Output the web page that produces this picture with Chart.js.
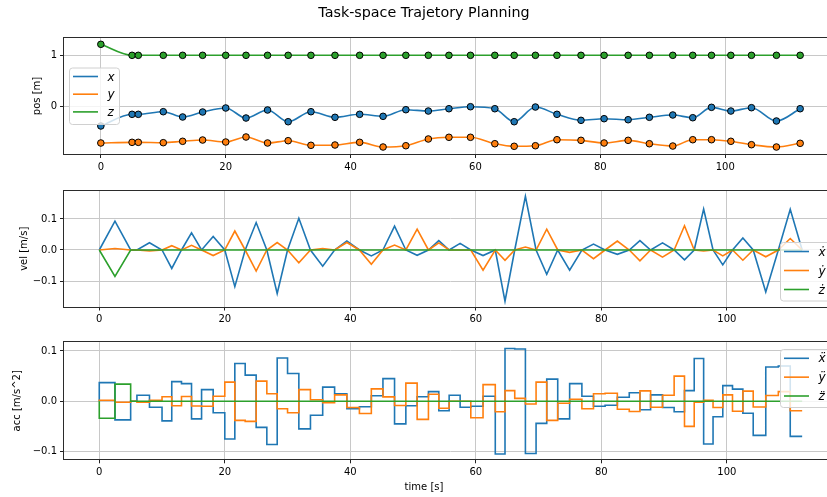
<!DOCTYPE html>
<html>
<head>
<meta charset="utf-8">
<script src="https://cdn.jsdelivr.net/npm/chart.js@4/dist/chart.umd.min.js"></script>
<style>
  html, body { margin: 0; padding: 0; background: #fff; overflow: hidden; width: 827px; height: 497px; }
  canvas { position: absolute; left: 0; top: 0; }
</style>
</head>
<body>
<canvas id="posChart" width="848" height="497" style="width:848px;height:497px"></canvas>
<canvas id="velChart" width="848" height="497" style="width:848px;height:497px"></canvas>
<canvas id="accChart" width="848" height="497" style="width:848px;height:497px"></canvas>
<script>
// Waypoint times of the trajectory (s)
const knotTimes = [0, 5, 6, 10, 13.1, 16.3, 20.0, 23.25, 26.7, 30.0, 33.65, 37.5, 41.45, 45.2, 48.85,
  52.45, 55.75, 59.2, 63.1, 66.2, 69.6, 73.05, 76.9, 80.6, 84.45, 87.85, 91.6, 94.8, 97.8, 100.9,
  104.2, 108.2, 112.0];
// Mid-segment times: velocity peak / acceleration switch (s)
const peakTimes = [2.5, 5.5, 8.0, 11.55, 14.7, 18.15, 21.6, 25.0, 28.35, 31.8, 35.6, 39.45, 43.35,
  47.05, 50.65, 54.1, 57.5, 61.15, 64.65, 67.9, 71.3, 74.95, 78.75, 82.55, 86.15, 89.75, 93.25,
  96.3, 99.35, 102.55, 106.2, 110.1];

// Waypoint positions (m)
const posX = [-0.375, -0.148, -0.148, -0.097, -0.200, -0.103, -0.025, -0.220, -0.064, -0.292, -0.097,
  -0.206, -0.148, -0.187, -0.058, -0.084, -0.039, 0.0, -0.039, -0.292, -0.006, -0.148, -0.265,
  -0.233, -0.253, -0.206, -0.161, -0.214, -0.012, -0.084, -0.019, -0.278, -0.039];
const posY = [-0.706, -0.693, -0.693, -0.700, -0.673, -0.648, -0.687, -0.589, -0.706, -0.661, -0.751,
  -0.745, -0.693, -0.784, -0.759, -0.628, -0.595, -0.595, -0.720, -0.770, -0.759, -0.642, -0.654,
  -0.706, -0.654, -0.720, -0.765, -0.642, -0.642, -0.673, -0.739, -0.784, -0.712];
const posZ = [1.214, 1, 1, 1, 1, 1, 1, 1, 1, 1, 1, 1, 1, 1, 1, 1, 1, 1, 1, 1, 1, 1, 1, 1, 1, 1, 1,
  1, 1, 1, 1, 1, 1];

// Peak velocity of each segment (m/s)
const velX = [0.0926, 0, 0.0234, -0.0596, 0.0553, 0.0436, -0.118, 0.0883, -0.140, 0.102, -0.052,
  0.0287, -0.019, 0.0766, -0.017, 0.030, 0.0213, -0.018, -0.165, 0.173, -0.078, -0.065, 0.019,
  -0.014, 0.030, 0.023, -0.032, 0.132, -0.048, 0.039, -0.135, 0.131];
const velY = [0.005, 0, -0.003, 0.014, 0.015, -0.018, 0.061, -0.068, 0.024, -0.041, 0.005, 0.024,
  -0.046, 0.016, 0.067, 0.023, 0, -0.065, -0.033, 0.0096, 0.067, -0.0075, -0.028, 0.029, -0.035,
  -0.023, 0.078, -0.003, -0.019, -0.033, -0.022, 0.037];
const velZ = [-0.085, 0, 0, 0, 0, 0, 0, 0, 0, 0, 0, 0, 0, 0, 0, 0, 0, 0, 0, 0, 0, 0, 0, 0, 0, 0, 0,
  0, 0, 0, 0, 0];

// Acceleration during the first half of each segment (m/s^2); the second half mirrors it
const accX = [0.037, 0, 0.012, -0.039, 0.035, 0.023, -0.075, 0.052, -0.086, 0.055, -0.028, 0.015,
  -0.011, 0.045, -0.009, 0.019, 0.012, -0.010, -0.105, 0.104, -0.044, -0.035, 0.010, -0.008, 0.017,
  0.0126, -0.021, 0.085, -0.031, 0.024, -0.068, 0.070];
const accY = [0.002, 0, -0.002, 0.009, 0.0095, -0.010, 0.038, -0.040, 0.015, -0.023, 0.003, 0.0126,
  -0.0245, 0.0086, 0.036, 0.014, 0, -0.033, -0.021, 0.0056, 0.038, -0.004, -0.015, 0.016, -0.0205,
  -0.012, 0.050, -0.002, -0.0126, -0.020, -0.0115, 0.019];
const accZ = [-0.034, 0, 0, 0, 0, 0, 0, 0, 0, 0, 0, 0, 0, 0, 0, 0, 0, 0, 0, 0, 0, 0, 0, 0, 0, 0, 0,
  0, 0, 0, 0, 0];

// Tick values and labels
const timeTicks = [0, 20, 40, 60, 80, 100];
const timeTickLabels = ['0', '20', '40', '60', '80', '100'];
const posTicks = [0, 1];
const posTickLabels = ['0', '1'];
const rateTicks = [-0.1, 0, 0.1];
const rateTickLabels = ['\u22120.1', '0.0', '0.1'];

const FONT = '"DejaVu Sans", sans-serif';
const BLUE = '#1f77b4', ORANGE = '#ff7f0e', GREEN = '#2ca02c';
const GRID = '#c8c8c8';

// ---- tables built for Chart.js ----
function positionTable(vals) {
  return knotTimes.map((t, i) => ({ x: t, y: vals[i] }));
}
function velocityTable(peaks) {
  const pts = [{ x: knotTimes[0], y: 0 }];
  peaks.forEach((v, i) => {
    pts.push({ x: peakTimes[i], y: v });
    pts.push({ x: knotTimes[i + 1], y: 0 });
  });
  return pts;
}
function accelerationTable(acc) {
  const pts = [{ x: knotTimes[0], y: 0 }];
  acc.forEach((a, i) => {
    pts.push({ x: peakTimes[i], y: a });
    pts.push({ x: knotTimes[i + 1], y: -a });
  });
  return pts;
}

// ---- plugins: axes frame and boxed legend ----
const framePlugin = {
  id: 'frame',
  afterDatasetsDraw(chart) {
    const { ctx, chartArea: a } = chart;
    ctx.save();
    ctx.strokeStyle = '#2b2b2b';
    ctx.lineWidth = 1;
    ctx.strokeRect(Math.round(a.left) - 0.5, Math.round(a.top) - 0.5,
      Math.round(a.right - a.left) + 1, Math.round(a.bottom - a.top) + 1);
    ctx.restore();
  }
};

const boxLegendPlugin = {
  id: 'boxLegend',
  afterDraw(chart, args, opts) {
    if (!opts || !opts.display) return;
    const { ctx } = chart;
    const { left, top, width, height, firstRow, rowGap } = opts;
    ctx.save();
    ctx.beginPath();
    ctx.roundRect(left + 0.5, top + 0.5, width, height, 3);
    ctx.fillStyle = 'rgba(255,255,255,0.8)';
    ctx.fill();
    ctx.strokeStyle = '#d0d0d0';
    ctx.lineWidth = 1;
    ctx.stroke();
    chart.data.datasets.forEach((ds, i) => {
      const y = top + firstRow + i * rowGap;
      ctx.beginPath();
      ctx.strokeStyle = ds.borderColor;
      ctx.lineWidth = 1.6;
      ctx.moveTo(left + 4, y);
      ctx.lineTo(left + 29, y);
      ctx.stroke();
      ctx.fillStyle = '#000';
      ctx.font = 'italic 12px ' + FONT;
      ctx.textBaseline = 'middle';
      ctx.textAlign = 'left';
      ctx.fillText(ds.label, left + 38.5, y + 1);
    });
    ctx.restore();
  }
};

Chart.defaults.font.family = FONT;
Chart.defaults.color = '#000';

function timeScale(min, max, height) {
  return {
    type: 'linear', min: min, max: max,
    afterBuildTicks: s => { s.ticks = timeTicks.map(v => ({ value: v })); },
    afterFit: s => { s.height = height; },
    ticks: {
      autoSkip: false, maxRotation: 0, padding: 3, color: '#000',
      font: { size: 10, family: FONT },
      callback: v => timeTickLabels[timeTicks.indexOf(v)]
    },
    grid: { color: GRID, lineWidth: 1, tickLength: 4, tickColor: '#222', tickWidth: 1 },
    border: { display: false }
  };
}
function valueScale(min, max, ticks, labels, title, titlePad) {
  return {
    type: 'linear', min: min, max: max,
    afterBuildTicks: s => { s.ticks = ticks.map(v => ({ value: v })); },
    afterFit: s => { s.width = 53; },
    ticks: {
      autoSkip: false, padding: 3, color: '#000',
      font: { size: 10, family: FONT },
      callback: v => labels[ticks.indexOf(v)]
    },
    grid: { color: GRID, lineWidth: 1, tickLength: 4, tickColor: '#222', tickWidth: 1 },
    border: { display: false },
    title: { display: true, text: title, color: '#000', font: { size: 10, family: FONT },
      padding: { top: titlePad, bottom: 0 } }
  };
}
function lineSet(label, data, color, order, extra) {
  return Object.assign({
    label: label, data: data, borderColor: color, backgroundColor: color,
    borderWidth: 1.6, pointRadius: 0, fill: false, order: order
  }, extra || {});
}
const common = {
  responsive: false, animation: false, devicePixelRatio: 1, events: [],
};

// ---- position panel ----
const markerStyle = c => ({
  pointRadius: 3.3, pointBorderWidth: 1, pointBorderColor: '#000', pointBackgroundColor: c,
  cubicInterpolationMode: 'monotone'
});
new Chart(document.getElementById('posChart'), {
  type: 'line',
  data: {
    datasets: [
      lineSet('x', positionTable(posX), BLUE, 3, markerStyle(BLUE)),
      lineSet('y', positionTable(posY), ORANGE, 2, markerStyle(ORANGE)),
      lineSet('z', positionTable(posZ), GREEN, 1, markerStyle(GREEN))
    ]
  },
  options: Object.assign({}, common, {
    layout: { padding: { left: 11, right: 11, top: 0, bottom: 323 } },
    scales: {
      x: timeScale(-5.9, 117.9, 20),
      y: valueScale(-0.92, 1.337, posTicks, posTickLabels, 'pos [m]', 20)
    },
    plugins: {
      legend: { display: false }, tooltip: { enabled: false },
      title: { display: true, text: 'Task-space Trajetory Planning', color: '#000',
        font: { size: 14.3, weight: 'normal', family: FONT }, padding: { top: 4.5, bottom: 16.34 } },
      boxLegend: { display: true, left: 69, top: 67.5, width: 50, height: 56.5, firstRow: 9, rowGap: 17.7 }
    }
  }),
  plugins: [framePlugin, boxLegendPlugin]
});

// ---- velocity panel ----
new Chart(document.getElementById('velChart'), {
  type: 'line',
  data: {
    datasets: [
      lineSet('\u1E8B', velocityTable(velX), BLUE, 3),
      lineSet('\u1E8F', velocityTable(velY), ORANGE, 2),
      lineSet('\u017C', velocityTable(velZ), GREEN, 1)
    ]
  },
  options: Object.assign({}, common, {
    layout: { padding: { left: 11, right: 11, top: 191, bottom: 170.5 } },
    scales: {
      x: timeScale(-5.62, 117.55, 20),
      y: valueScale(-0.182, 0.190, rateTicks, rateTickLabels, 'vel [m/s]', 7)
    },
    plugins: {
      legend: { display: false }, tooltip: { enabled: false },
      boxLegend: { display: true, left: 780, top: 242, width: 56, height: 58.5, firstRow: 9.5, rowGap: 19 }
    }
  }),
  plugins: [framePlugin, boxLegendPlugin]
});

// ---- acceleration panel ----
new Chart(document.getElementById('accChart'), {
  type: 'line',
  data: {
    datasets: [
      lineSet('\u1E8D', accelerationTable(accX), BLUE, 3, { stepped: 'after' }),
      lineSet('\u00FF', accelerationTable(accY), ORANGE, 2, { stepped: 'after' }),
      lineSet('z\u0308', accelerationTable(accZ), GREEN, 1, { stepped: 'after' })
    ]
  },
  options: Object.assign({}, common, {
    layout: { padding: { left: 11, right: 11, top: 342.3, bottom: 0 } },
    scales: {
      x: timeScale(-5.62, 117.55, 19.7),
      y: valueScale(-0.1155, 0.1172, rateTicks, rateTickLabels, 'acc [m/s^2]', 0)
    },
    plugins: {
      legend: { display: false }, tooltip: { enabled: false },
      title: { display: true, position: 'bottom', text: 'time [s]', color: '#000',
        font: { size: 10, weight: 'normal', family: FONT }, padding: { top: 2.5, bottom: 3.5 } },
      boxLegend: { display: true, left: 780, top: 349, width: 56, height: 58, firstRow: 9.3, rowGap: 18.85 }
    }
  }),
  plugins: [framePlugin, boxLegendPlugin]
});
</script>
</body>
</html>
